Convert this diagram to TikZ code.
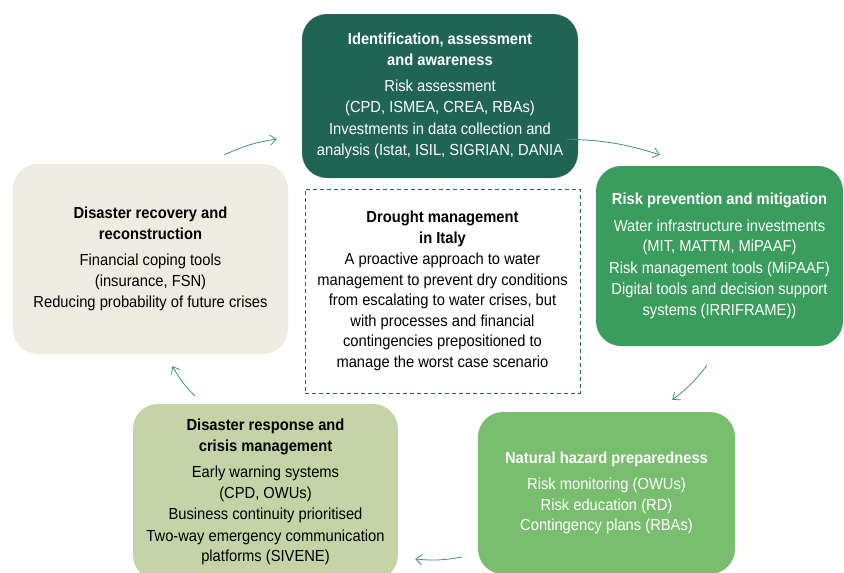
\documentclass[tikz,border=0pt]{standalone}
\usepackage{fontspec}
\setmainfont{Liberation Sans}[FakeStretch=0.92]
\usetikzlibrary{arrows.meta}
\definecolor{identcol}{HTML}{1F6455}
\definecolor{preventcol}{HTML}{3A9D5E}
\definecolor{preparecol}{HTML}{78BE6E}
\definecolor{responsecol}{HTML}{C5D4A6}
\definecolor{recovercol}{HTML}{EEEBE0}
\definecolor{cyclecol}{HTML}{3F8F80}
\begin{document}
\begin{tikzpicture}[x=1pt,y=-1pt,
		phase/.style={rounded corners=25pt, align=center, inner sep=0pt,
			font=\fontsize{16}{20.5}\selectfont},
		cyc/.style={draw=cyclecol, line width=0.8pt, bend left=8,
			-{Straight Barb[length=6pt,width=10pt]}}]
		\useasboundingbox (0,0) rectangle (844,573);

		% Cycle phases
		\node[phase, fill=identcol, text=white, minimum width=276, minimum height=164] (ident) at (440,96)
			{\textbf{Identification, assessment}\\\textbf{and awareness}\\[6pt]
			Risk assessment\\(CPD, ISMEA, CREA, RBAs)\\[2pt]
			Investments in data collection and\\analysis (Istat, ISIL, SIGRIAN, DANIA};
		\node[phase, fill=preventcol, text=white, minimum width=247, minimum height=180] (prevent) at (719.5,256)
			{\textbf{Risk prevention and mitigation}\\[6pt]
			Water infrastructure investments\\(MIT, MATTM, MiPAAF)\\[1pt]
			Risk management tools (MiPAAF)\\[1pt]
			Digital tools and decision support\\systems (IRRIFRAME))};
		\node[phase, fill=preparecol, text=white, minimum width=257, minimum height=162] (prepare) at (606.5,493)
			{\textbf{Natural hazard preparedness}\\[6pt]
			Risk monitoring (OWUs)\\Risk education (RD)\\Contingency plans (RBAs)};
		\node[phase, fill=responsecol, minimum width=265, minimum height=176] (response) at (265.5,492)
			{\textbf{Disaster response and}\\\textbf{crisis management}\\[6pt]
			Early warning systems\\(CPD, OWUs)\\[1pt]
			Business continuity prioritised\\[1pt]
			Two-way emergency communication\\platforms (SIVENE)};
		\node[phase, fill=recovercol, minimum width=275, minimum height=190] (recover) at (150.5,259)
			{\textbf{Disaster recovery and}\\\textbf{reconstruction}\\[6pt]
			Financial coping tools\\(insurance, FSN)\\[1pt]
			Reducing probability of future crises};

		% Centre
		\node[phase, rounded corners=0pt, draw=identcol, line width=0.8pt,
			dash pattern=on 4pt off 3pt, minimum width=275, minimum height=204] (drought) at (442.5,291)
			{\textbf{Drought management}\\\textbf{in Italy}\\[1pt]
			A proactive approach to water\\management to prevent dry conditions\\
			from escalating to water crises, but\\with processes and financial\\
			contingencies prepositioned to\\manage the worst case scenario};

		% Arrows
		\draw[cyc] ([shift={(74,-9)}]recover.north) to ([shift={(-25,43)}]ident.west);
		\draw[cyc] ([shift={(-11,-39)}]ident.south east) to ([shift={(64,-11)}]prevent.north west);
		\draw[cyc] ([shift={(-12.5,19)}]prevent.south) to ([shift={(-63,-12)}]prepare.north east);
		\draw[cyc] ([shift={(-16,64)}]prepare.west) to ([shift={(17,67)}]response.east);
		\draw[cyc] ([shift={(62,-8)}]response.north west) to ([shift={(22,12)}]recover.south);
	\end{tikzpicture}
\end{document}
